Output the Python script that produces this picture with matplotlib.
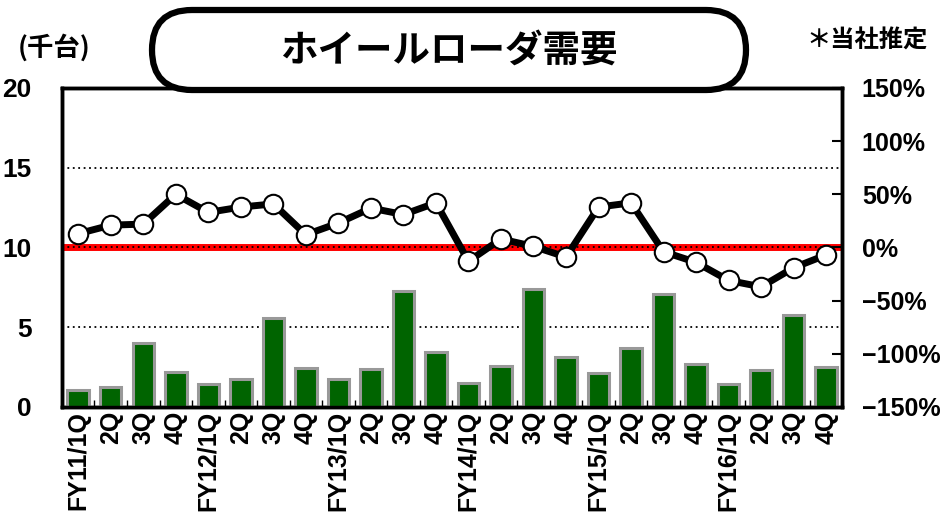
import numpy as np
import matplotlib
matplotlib.use("Agg")
import matplotlib.pyplot as plt
from matplotlib.patches import FancyBboxPatch

plt.rcParams['font.family'] = ['Noto Sans CJK JP', 'DejaVu Sans']
plt.rcParams['font.weight'] = 'bold'

# データ (千台, 前年比%)
years = ['FY11', 'FY12', 'FY13', 'FY14', 'FY15', 'FY16']
quarters = ['1Q', '2Q', '3Q', '4Q']
demand = [1.05, 1.27, 4.0, 2.17, 1.44, 1.75, 5.56, 2.42,
          1.73, 2.38, 7.29, 3.47, 1.48, 2.57, 7.4, 3.15,
          2.11, 3.68, 7.08, 2.7, 1.44, 2.32, 5.77, 2.53]
yoy = [13, 21, 22, 50, 33, 38, 41, 12,
       23, 37, 31, 42, -13, 8, 1, -9,
       38, 42, -4, -14, -31, -37, -19, -7]

labels = []
for y in years:
    for q in quarters:
        labels.append(y + '/' + q if q == '1Q' else q)

x = np.arange(len(demand))
num_font = ['Liberation Sans', 'DejaVu Sans']

fig = plt.figure(figsize=(9.49, 5.25), dpi=100)
ax = fig.add_axes([0.0653, 0.2248, 0.8224, 0.6076])
ax2 = ax.twinx()

# 棒グラフ
ax.bar(x, demand, width=0.66, color='#006400', edgecolor='#999999', linewidth=2.2, zorder=3)
ax.set_ylim(0, 20)
ax.set_xlim(-0.5, len(demand) - 0.5)
ax.set_yticks([0, 5, 10, 15, 20])
for g in [5, 15]:
    ax.axhline(g, color='black', linestyle=(0, (1, 2)), linewidth=1.3, zorder=1)
ax.axhline(10, color='red', linewidth=5, zorder=2)
ax.axhline(10, color='black', linestyle=(0, (1, 2)), linewidth=1.3, zorder=2)

ax.set_xticks(x)
ax.set_xticklabels(labels, rotation=90, fontsize=18, fontweight='bold', family=num_font)
ax.set_xticks(np.arange(-0.5, len(demand), 1), minor=True)
ax.tick_params(axis='x', which='major', length=0, pad=3)
ax.tick_params(axis='x', which='minor', length=5, direction='in', width=1)
ax.tick_params(axis='y', length=0, pad=22)
for lab in ax.get_yticklabels():
    lab.set_fontweight('bold')
    lab.set_family(num_font)
    lab.set_fontsize(19)

# 折れ線
ax2.plot(x, yoy, color='black', linewidth=5, marker='o', markersize=14,
         markerfacecolor='white', markeredgecolor='black', markeredgewidth=1.5, zorder=5)
ax2.set_ylim(-150, 150)
ax2.set_yticks(np.arange(-150, 151, 50))
ax2.set_yticklabels([f'{v}%'.replace('-', '\u2212') for v in range(-150, 151, 50)])
ax2.tick_params(axis='y', direction='in', length=7, width=1.5, pad=14)
for lab in ax2.get_yticklabels():
    lab.set_fontweight('bold')
    lab.set_family(num_font)
    lab.set_fontsize(18)

for a in (ax, ax2):
    for s in a.spines.values():
        s.set_linewidth(2.5)

# タイトル等
ov = fig.add_axes([0, 0, 1, 1], facecolor='none')
ov.set_xlim(0, 949)
ov.set_ylim(525, 0)
ov.axis('off')
box = FancyBboxPatch((152, 10), 594, 80, boxstyle='round,pad=0,rounding_size=40',
                     facecolor='white', edgecolor='black', linewidth=4.5)
ov.add_patch(box)
ov.text(449, 50, 'ホイールローダ需要', fontsize=27, fontweight='bold', ha='center', va='center')
ov.text(54, 48, '(千台)', fontsize=19, fontweight='bold', ha='center', va='center')
ov.text(867, 41, '＊当社推定', fontsize=17.5, fontweight='bold', ha='center', va='center')

fig.savefig('out.png', dpi=100)
